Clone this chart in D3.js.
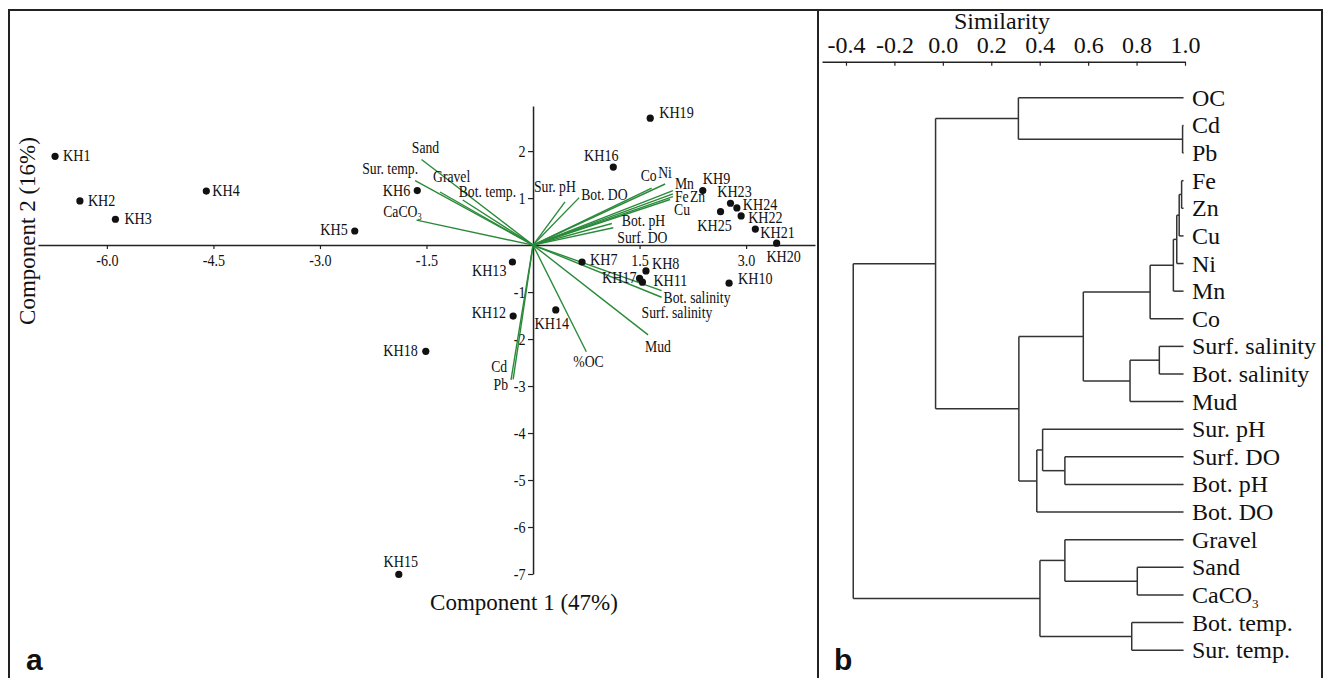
<!DOCTYPE html>
<html>
<head>
<meta charset="utf-8">
<script src="https://cdn.jsdelivr.net/npm/d3@7"></script>
<style>
  body { margin: 0; background: #fff; }
  svg { display: block; }
  text { font-family: "Liberation Serif", "Times New Roman", serif; fill: #111; }
  text.panel { font-family: "Liberation Sans", Arial, sans-serif; font-weight: bold; }
</style>
</head>
<body>
<svg width="1325" height="678"></svg>
<script>
// PCA scores (component 1, component 2)
const stations = ["KH1","KH2","KH3","KH4","KH5","KH6","KH7","KH8","KH9","KH10","KH11","KH12","KH13",
  "KH14","KH15","KH16","KH17","KH18","KH19","KH20","KH21","KH22","KH23","KH24","KH25"]
const pc1 = [-6.73,-6.38,-5.88,-4.60,-2.51,-1.63,0.69,1.59,2.39,2.76,1.54,-0.28,-0.29,
  0.32,-1.89,1.13,1.50,-1.51,1.65,3.43,3.13,2.93,2.78,2.87,2.64]
const pc2 = [1.89,0.94,0.55,1.15,0.30,1.16,-0.36,-0.55,1.16,-0.81,-0.79,-1.51,-0.36,
  -1.38,-7.01,1.66,-0.71,-2.26,2.70,0.04,0.34,0.62,0.89,0.79,0.71]

// loadings (biplot vectors)
const variables = ["Sand","Sur. temp.","Gravel","Bot. temp.","CaCO3","Sur. pH","Bot. DO","Co","Ni","Mn",
  "Fe","Zn","Cu","Bot. pH","Surf. DO","Bot. salinity","Surf. salinity","Mud","%OC","Cd","Pb"]
const load1 = [-1.57,-1.66,-1.31,-0.99,-1.64,0.45,0.65,1.67,1.86,1.97,1.97,1.97,1.93,1.11,1.13,1.81,1.81,1.62,0.75,-0.28,-0.31]
const load2 = [1.82,1.37,1.13,0.96,0.53,0.92,1.01,1.21,1.30,1.16,1.09,1.03,0.97,0.46,0.37,-0.97,-1.11,-1.91,-2.27,-2.86,-2.87]

const xTicks = [-6, -4.5, -3, -1.5, 1.5, 3]
const yTicks = [2, 1, -1, -2, -3, -4, -5, -6, -7]
const simTicks = [-0.4, -0.2, 0, 0.2, 0.4, 0.6, 0.8, 1.0]

// cluster tree, s = similarity where the branches join
const dendro = {s: -0.370, c: [
  {s: -0.030, c: [
    {s: 0.312, c: ["OC", {s: 0.990, c: ["Cd", "Pb"]}]},
    {s: 0.314, c: [
      {s: 0.580, c: [
        {s: 0.856, c: [
          {s: 0.952, c: [{s: 0.966, c: [{s: 0.976, c: [{s: 0.986, c: ["Fe", "Zn"]}, "Cu"]}, "Ni"]}, "Mn"]},
          "Co"]},
        {s: 0.773, c: [{s: 0.894, c: ["Surf. salinity", "Bot. salinity"]}, "Mud"]}
      ]},
      {s: 0.388, c: [{s: 0.412, c: ["Sur. pH", {s: 0.504, c: ["Surf. DO", "Bot. pH"]}]}, "Bot. DO"]}
    ]}
  ]},
  {s: 0.401, c: [
    {s: 0.504, c: ["Gravel", {s: 0.803, c: ["Sand", "CaCO3"]}]},
    {s: 0.780, c: ["Bot. temp.", "Sur. temp."]}
  ]}
]}
const leafSim = 0.994

// label placement: [anchor, dx, dy]
const ptLab = {
  KH1:["start",8,5], KH2:["start",8,5], KH3:["start",9,5], KH4:["start",6,5], KH5:["end",-7,4],
  KH6:["end",-7,5], KH7:["start",8,3], KH8:["start",6,-2], KH9:["start",0,-7], KH10:["start",9,1],
  KH11:["start",11,4], KH12:["end",-7,2], KH13:["end",-6,14], KH14:["middle",-4,19], KH15:["middle",2,-7],
  KH16:["middle",-12,-6], KH17:["end",-3,5], KH18:["end",-8,5], KH19:["start",9,0], KH20:["middle",7,19],
  KH21:["start",5,9], KH22:["start",7,7], KH23:["middle",4,-6], KH24:["start",6,2], KH25:["middle",-6,19]
}
const varLab = {
  "Sand":["middle",4,-7], "Sur. temp.":["end",3,-7], "Gravel":["start",-7,-10], "Bot. temp.":["start",-4,-3],
  "CaCO3":["end",5,-3], "Sur. pH":["start",-31,-10], "Bot. DO":["start",2,2], "Co":["end",5,-7],
  "Ni":["start",-7,-6], "Mn":["start",2,-2], "Fe":["start",2,8], "Zn":["start",17,5], "Cu":["start",4,15],
  "Bot. pH":["start",10,3], "Surf. DO":["start",4,15], "Bot. salinity":["start",2,12],
  "Surf. salinity":["start",-20,21], "Mud":["start",-3,17], "%OC":["start",-13,15],
  "Cd":["end",-6,-7], "Pb":["end",-3,10]
}

const svg = d3.select("svg")
const SX = 0.83   // small labels are narrow in the original
const green = "#2b8a3a"
const fmt1 = d => d.toFixed(1)

// panel frames
svg.append("rect").attr("x", 9).attr("y", 10).attr("width", 809).attr("height", 700)
  .attr("fill", "none").attr("stroke", "#222").attr("stroke-width", 2)
svg.append("rect").attr("x", 818).attr("y", 10).attr("width", 504).attr("height", 700)
  .attr("fill", "none").attr("stroke", "#222").attr("stroke-width", 2)

// ---------- a: PCA biplot ----------
const x = d3.scaleLinear().domain([-6.97, 3.97]).range([38, 815])
const y = d3.scaleLinear().domain([2.96, -7]).range([106, 574])

function addText(g, str, px, py, anchor, size){
  const t = g.append("text")
    .attr("transform", `translate(${px},${py}) scale(${SX},1)`)
    .attr("text-anchor", anchor)
    .attr("font-size", size || 17)
  if(str === "CaCO3"){
    t.text("CaCO")
    t.append("tspan").attr("font-size", 10).attr("dy", 3).text("3")
  } else t.text(str)
  return t
}

const gx = svg.append("g").attr("transform", `translate(0,${y(0)})`)
  .call(d3.axisBottom(x).tickValues(xTicks).tickFormat(fmt1).tickSize(4).tickSizeOuter(0).tickPadding(5))
const gy = svg.append("g").attr("transform", `translate(${x(0)},0)`)
  .call(d3.axisLeft(y).tickValues(yTicks).tickFormat(d => String(d)).tickSize(5).tickSizeOuter(0).tickPadding(4))
;[gx, gy].forEach(g=>{
  g.selectAll(".domain").attr("stroke", "#222").attr("stroke-width", 1.5)
  g.selectAll(".tick line").attr("stroke", "#222").attr("stroke-width", 1.2)
  g.selectAll(".tick text").attr("font-size", 17).attr("transform", `scale(${SX},1)`)
})

const vecs = variables.map((v,i)=>({name: v, a: load1[i], b: load2[i]}))
svg.append("g").selectAll("line").data(vecs).join("line")
  .attr("x1", x(0)).attr("y1", y(0))
  .attr("x2", d=>x(d.a)).attr("y2", d=>y(d.b))
  .attr("stroke", green).attr("stroke-width", 1.4)

const gl = svg.append("g")
vecs.forEach(d=>{
  const p = varLab[d.name]
  addText(gl, d.name, x(d.a)+p[1], y(d.b)+p[2], p[0], 16.5)
})

const pts = stations.map((s,i)=>({name: s, a: pc1[i], b: pc2[i]}))
svg.append("g").selectAll("circle").data(pts).join("circle")
  .attr("cx", d=>x(d.a)).attr("cy", d=>y(d.b)).attr("r", 3.6).attr("fill", "#111")
const gp = svg.append("g")
pts.forEach(d=>{
  const p = ptLab[d.name]
  addText(gp, d.name, x(d.a)+p[1], y(d.b)+p[2], p[0])
})

svg.append("text").attr("x", 524).attr("y", 610).attr("text-anchor", "middle")
  .attr("font-size", 23).text("Component 1 (47%)")
svg.append("text").attr("transform", "translate(35,231) rotate(-90)").attr("text-anchor", "middle")
  .attr("font-size", 23).text("Component 2 (16%)")
svg.append("text").attr("class", "panel").attr("x", 26).attr("y", 670)
  .attr("font-size", 30).text("a")

// ---------- b: dendrogram ----------
const s = d3.scaleLinear().domain([-0.499, 1.0]).range([822, 1185])
const ga = svg.append("g").attr("transform", "translate(0,61.7)")
  .call(d3.axisTop(s).tickValues(simTicks).tickFormat(fmt1).tickSizeInner(-4).tickSizeOuter(0).tickPadding(9))
ga.selectAll(".domain").attr("stroke", "#222").attr("stroke-width", 1.5)
ga.selectAll(".tick line").attr("stroke", "#222").attr("stroke-width", 1.2)
ga.selectAll(".tick text").attr("font-size", 24)
svg.append("text").attr("x", 1002).attr("y", 29).attr("text-anchor", "middle")
  .attr("font-size", 24).text("Similarity")

const root = d3.hierarchy(dendro, d=> typeof d === "string" ? null : d.c)
d3.cluster().size([580, 1]).separation(()=>1)(root)
const ny = d=> 84 + d.x
const nx = d=> s(d.children ? d.data.s : leafSim)

const gd = svg.append("g").attr("fill", "none").attr("stroke", "#333").attr("stroke-width", 1.5)
root.descendants().filter(d=>d.children).forEach(d=>{
  const ys = d.children.map(ny)
  gd.append("line").attr("x1", nx(d)).attr("x2", nx(d))
    .attr("y1", d3.min(ys)).attr("y2", d3.max(ys))
  d.children.forEach(c=>{
    gd.append("line").attr("x1", nx(d)).attr("x2", nx(c))
      .attr("y1", ny(c)).attr("y2", ny(c))
  })
})

root.leaves().forEach(d=>{
  const t = svg.append("text").attr("x", 1192).attr("y", ny(d)+8).attr("font-size", 24)
  if(d.data === "CaCO3"){
    t.text("CaCO")
    t.append("tspan").attr("font-size", 13).attr("dy", 5).text("3")
  } else t.text(d.data)
})

svg.append("text").attr("class", "panel").attr("x", 834).attr("y", 670)
  .attr("font-size", 30).text("b")
</script>
</body>
</html>
